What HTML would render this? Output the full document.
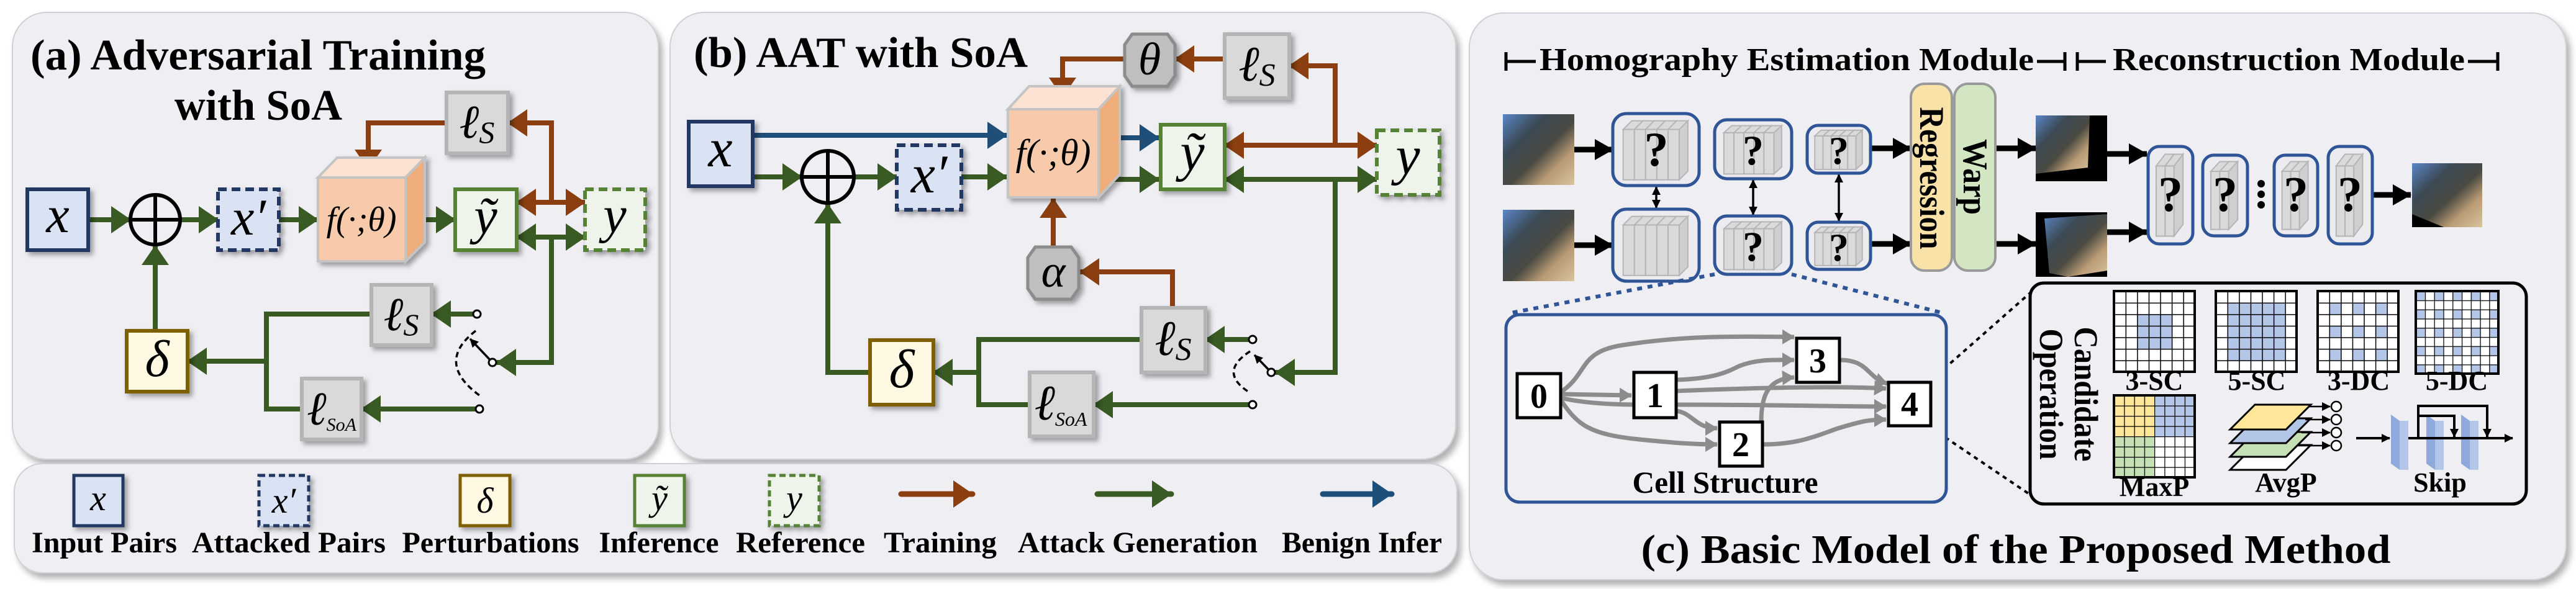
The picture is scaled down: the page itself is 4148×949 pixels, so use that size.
<!DOCTYPE html>
<html><head><meta charset="utf-8"><style>html,body{margin:0;padding:0;background:#fff}svg{display:block}svg text{font-family:"Liberation Serif","Times New Roman",serif}</style></head>
<body>
<svg width="4148" height="949" viewBox="0 0 4148 949" xmlns="http://www.w3.org/2000/svg">
<defs>
<filter id="psh" x="-5%" y="-5%" width="110%" height="115%"><feDropShadow dx="6" dy="8" stdDeviation="5" flood-color="#000" flood-opacity="0.3"/></filter>
<filter id="sh" x="-20%" y="-20%" width="150%" height="150%"><feDropShadow dx="5" dy="5" stdDeviation="4" flood-color="#000" flood-opacity="0.35"/></filter>
<marker id="mg" markerUnits="userSpaceOnUse" viewBox="0 0 32 44" markerWidth="32" markerHeight="44" refX="31" refY="22" orient="auto-start-reverse"><path d="M0,0L32,22L0,44z" fill="#3a5a24"/></marker>
<marker id="mb" markerUnits="userSpaceOnUse" viewBox="0 0 32 44" markerWidth="32" markerHeight="44" refX="31" refY="22" orient="auto-start-reverse"><path d="M0,0L32,22L0,44z" fill="#8b3f10"/></marker>
<marker id="mu" markerUnits="userSpaceOnUse" viewBox="0 0 32 44" markerWidth="32" markerHeight="44" refX="31" refY="22" orient="auto-start-reverse"><path d="M0,0L32,22L0,44z" fill="#1f4e79"/></marker>
<marker id="mk" markerUnits="userSpaceOnUse" viewBox="0 0 30 34" markerWidth="30" markerHeight="34" refX="29" refY="17" orient="auto-start-reverse"><path d="M0,0L30,17L0,34z" fill="#000"/></marker>
<marker id="mks" markerUnits="userSpaceOnUse" viewBox="0 0 14 14" markerWidth="14" markerHeight="14" refX="13" refY="7" orient="auto-start-reverse"><path d="M0,0L14,7L0,14z" fill="#000"/></marker>
<marker id="mgr" markerUnits="userSpaceOnUse" viewBox="0 0 20 24" markerWidth="20" markerHeight="24" refX="19" refY="12" orient="auto-start-reverse"><path d="M0,0L20,12L0,24z" fill="#8c8c8c"/></marker>
<linearGradient id="photo" x1="0" y1="0" x2="1" y2="1">
<stop offset="0" stop-color="#5a86c8"/><stop offset="0.3" stop-color="#3c4a55"/><stop offset="0.55" stop-color="#4a4a42"/><stop offset="0.75" stop-color="#b89a74"/><stop offset="1" stop-color="#d8c4a0"/></linearGradient>
<pattern id="g7" patternUnits="userSpaceOnUse" width="18.57" height="18.57"><path d="M18.57,0L0,0L0,18.57" fill="none" stroke="#000" stroke-width="3"/></pattern>
<pattern id="g9" patternUnits="userSpaceOnUse" width="14.78" height="14.78"><path d="M14.78,0L0,0L0,14.78" fill="none" stroke="#000" stroke-width="2.5"/></pattern>
<pattern id="g8" patternUnits="userSpaceOnUse" width="16.25" height="16.5"><path d="M16.25,0L0,0L0,16.5" fill="none" stroke="#000" stroke-width="2.5"/></pattern>
<pattern id="d3" patternUnits="userSpaceOnUse" width="37.14" height="37.14"><rect x="18.57" y="18.57" width="18.57" height="18.57" fill="#b4c6e7"/></pattern>
<pattern id="d5" patternUnits="userSpaceOnUse" width="29.56" height="29.56"><rect x="0" y="0" width="14.78" height="14.78" fill="#b4c6e7"/></pattern>
<g id="stk">
<g fill="#dadada" stroke="#b5b5b5" stroke-width="2">
<polygon points="12,22 22,10 35,10 25,22" vector-effect="non-scaling-stroke"/><rect x="12" y="22" width="13" height="70" vector-effect="non-scaling-stroke"/>
<polygon points="25,22 35,10 48,10 38,22" vector-effect="non-scaling-stroke"/><rect x="25" y="22" width="13" height="70" vector-effect="non-scaling-stroke"/>
<polygon points="38,22 48,10 61,10 51,22" vector-effect="non-scaling-stroke"/><rect x="38" y="22" width="13" height="70" vector-effect="non-scaling-stroke"/>
<polygon points="51,22 61,10 74,10 64,22" vector-effect="non-scaling-stroke"/><rect x="51" y="22" width="13" height="70" vector-effect="non-scaling-stroke"/>
<polygon points="64,22 74,10 87,10 77,22" vector-effect="non-scaling-stroke"/><rect x="64" y="22" width="13" height="70" vector-effect="non-scaling-stroke"/>
<polygon points="77,22 87,10 87,80 77,92" fill="#cfcfcf" vector-effect="non-scaling-stroke"/>
</g></g>
<g id="stk2">
<g fill="#dadada" stroke="#b5b5b5" stroke-width="2">
<polygon points="18,20 38,8 58,8 38,20" vector-effect="non-scaling-stroke"/><rect x="18" y="20" width="20" height="72" vector-effect="non-scaling-stroke"/>
<polygon points="38,20 58,8 78,8 58,20" vector-effect="non-scaling-stroke"/><rect x="38" y="20" width="20" height="72" vector-effect="non-scaling-stroke"/>
<polygon points="58,20 78,8 78,80 58,92" fill="#cfcfcf" vector-effect="non-scaling-stroke"/>
</g></g>
</defs>

<rect x="20" y="20" width="1040" height="720" rx="55" fill="#eeeef3" stroke="#d0d0d6" stroke-width="2" filter="url(#psh)"/>
<rect x="1079" y="20" width="1265" height="720" rx="55" fill="#eeeef3" stroke="#d0d0d6" stroke-width="2" filter="url(#psh)"/>
<rect x="23" y="747" width="2323" height="176" rx="45" fill="#eeeef3" stroke="#d0d0d6" stroke-width="2" filter="url(#psh)"/>
<rect x="2366" y="21" width="1766" height="913" rx="55" fill="#eeeef3" stroke="#d0d0d6" stroke-width="2" filter="url(#psh)"/>

<!-- Panel (a) -->
<text x="49" y="112" font-size="70" font-weight="bold" textLength="733" lengthAdjust="spacingAndGlyphs">(a) Adversarial Training</text>
<text x="281" y="193" font-size="70" font-weight="bold" textLength="270" lengthAdjust="spacingAndGlyphs">with SoA</text>

<g fill="none" stroke-width="8">
<line x1="142" y1="354" x2="210" y2="354" stroke="#3a5a24" marker-end="url(#mg)"/>
<line x1="290" y1="354" x2="351" y2="354" stroke="#3a5a24" marker-end="url(#mg)"/>
<line x1="449" y1="354" x2="512" y2="354" stroke="#3a5a24" marker-end="url(#mg)"/>
<line x1="667" y1="354" x2="733" y2="354" stroke="#3a5a24" marker-end="url(#mg)"/>
<polyline points="719,198 593,198 593,272" stroke="#8b3f10" marker-end="url(#mb)"/>
<polyline points="888,326 888,198 818,198" stroke="#8b3f10" marker-end="url(#mb)"/>
<line x1="832" y1="326" x2="942" y2="326" stroke="#8b3f10" marker-start="url(#mb)" marker-end="url(#mb)"/>
<line x1="832" y1="382" x2="942" y2="382" stroke="#3a5a24" marker-start="url(#mg)" marker-end="url(#mg)"/>
<polyline points="888,382 888,584 800,584" stroke="#3a5a24" marker-end="url(#mg)"/>
<line x1="762" y1="506" x2="695" y2="506" stroke="#3a5a24" marker-end="url(#mg)"/>
<line x1="766" y1="659" x2="582" y2="659" stroke="#3a5a24" marker-end="url(#mg)"/>
<polyline points="598,506 429,506 429,659 486,659" stroke="#3a5a24"/>
<line x1="429" y1="582" x2="302" y2="582" stroke="#3a5a24" marker-end="url(#mg)"/>
<line x1="250" y1="533" x2="250" y2="396" stroke="#3a5a24" marker-end="url(#mg)"/>
</g>
<line x1="793" y1="584" x2="757" y2="546" stroke="#000" stroke-width="3.5" marker-end="url(#mks)"/>
<path d="M766,533 Q700,584 772,637" fill="none" stroke="#000" stroke-width="3.5" stroke-dasharray="9 6"/>
<circle cx="768" cy="506" r="6" fill="#fff" stroke="#000" stroke-width="3"/>
<circle cx="793" cy="584" r="6" fill="#fff" stroke="#000" stroke-width="3"/>
<circle cx="772" cy="659" r="6" fill="#fff" stroke="#000" stroke-width="3"/>

<g filter="url(#sh)">
<rect x="44" y="305" width="98" height="98" fill="#dae3f3" stroke="#203864" stroke-width="6"/>
<rect x="351" y="305" width="98" height="98" fill="#dae3f3" stroke="#203864" stroke-width="6" stroke-dasharray="14 8"/>
<polygon points="512,286 543,254 684,254 653,286" fill="#fbe2d2" stroke="#c4c4c4" stroke-width="4"/>
<polygon points="653,286 684,254 684,390 653,421" fill="#f0ad7c" stroke="#c4c4c4" stroke-width="4"/>
<rect x="512" y="286" width="141" height="135" fill="#f7caab" stroke="#c4c4c4" stroke-width="4"/>
<rect x="733" y="305" width="99" height="98" fill="#eef4ea" stroke="#548235" stroke-width="6"/>
<rect x="942" y="305" width="97" height="98" fill="#eef4ea" stroke="#548235" stroke-width="6" stroke-dasharray="14 8"/>
<rect x="719" y="149" width="99" height="98" fill="#d9d9d9" stroke="#b5b5b5" stroke-width="6"/>
<rect x="598" y="459" width="97" height="97" fill="#d9d9d9" stroke="#b5b5b5" stroke-width="6"/>
<rect x="486" y="610" width="96" height="98" fill="#d9d9d9" stroke="#b5b5b5" stroke-width="6"/>
<rect x="204" y="533" width="98" height="98" fill="#fff8e2" stroke="#7f6000" stroke-width="6"/>
</g>
<circle cx="250" cy="354" r="40" fill="none" stroke="#000" stroke-width="6"/>
<line x1="210" y1="354" x2="290" y2="354" stroke="#000" stroke-width="6"/>
<line x1="250" y1="314" x2="250" y2="394" stroke="#000" stroke-width="6"/>
<g font-style="italic" text-anchor="middle">
<text x="93" y="374" font-size="84">x</text>
<text x="400" y="378" font-size="84">x′</text>
<text x="582" y="372" font-size="56">f(·;θ)</text>
<text x="782" y="376" font-size="84">ỹ</text>
<text x="990" y="374" font-size="84">y</text>
<text x="768" y="222" font-size="76">ℓ<tspan font-size="50" dy="8">S</tspan></text>
<text x="646" y="532" font-size="76">ℓ<tspan font-size="50" dy="8">S</tspan></text>
<text x="534" y="684" font-size="76">ℓ<tspan font-size="30" dy="10">SoA</tspan></text>
<text x="253" y="606" font-size="84">δ</text>
</g>

<!-- Panel (b) -->
<text x="1117" y="108" font-size="70" font-weight="bold" textLength="538" lengthAdjust="spacingAndGlyphs">(b) AAT with SoA</text>
<g fill="none" stroke-width="8">
<line x1="1212" y1="218" x2="1621" y2="218" stroke="#1f4e79" marker-end="url(#mu)"/>
<line x1="1212" y1="285" x2="1291" y2="285" stroke="#3a5a24" marker-end="url(#mg)"/>
<line x1="1375" y1="285" x2="1444" y2="285" stroke="#3a5a24" marker-end="url(#mg)"/>
<line x1="1548" y1="285" x2="1621" y2="285" stroke="#3a5a24" marker-end="url(#mg)"/>
<line x1="1783" y1="222" x2="1866" y2="222" stroke="#1f4e79" marker-end="url(#mu)"/>
<line x1="1783" y1="289" x2="1866" y2="289" stroke="#3a5a24" marker-end="url(#mg)"/>
<line x1="1972" y1="234" x2="2217" y2="234" stroke="#8b3f10" marker-start="url(#mb)" marker-end="url(#mb)"/>
<polyline points="2150,234 2150,106 2076,106" stroke="#8b3f10" marker-end="url(#mb)"/>
<line x1="1972" y1="95" x2="1892" y2="95" stroke="#8b3f10" marker-end="url(#mb)"/>
<polyline points="1810,95 1711,95 1711,156" stroke="#8b3f10" marker-end="url(#mb)"/>
<line x1="1972" y1="289" x2="2217" y2="289" stroke="#3a5a24" marker-start="url(#mg)" marker-end="url(#mg)"/>
<polyline points="2150,289 2150,600 2054,600" stroke="#3a5a24" marker-end="url(#mg)"/>
<line x1="2011" y1="547" x2="1941" y2="547" stroke="#3a5a24" marker-end="url(#mg)"/>
<line x1="2011" y1="652" x2="1761" y2="652" stroke="#3a5a24" marker-end="url(#mg)"/>
<polyline points="1838,547 1576,547 1576,652 1658,652" stroke="#3a5a24"/>
<line x1="1576" y1="600" x2="1503" y2="600" stroke="#3a5a24" marker-end="url(#mg)"/>
<polyline points="1401,600 1333,600 1333,329" stroke="#3a5a24" marker-end="url(#mg)"/>
<line x1="1696" y1="398" x2="1696" y2="320" stroke="#8b3f10" marker-end="url(#mb)"/>
<polyline points="1888,496 1888,438 1739,438" stroke="#8b3f10" marker-end="url(#mb)"/>
</g>
<line x1="2047" y1="600" x2="2020" y2="572" stroke="#000" stroke-width="3.5" marker-end="url(#mks)"/>
<path d="M2013,566 Q1960,600 2013,633" fill="none" stroke="#000" stroke-width="3.5" stroke-dasharray="9 6"/>
<circle cx="2017" cy="547" r="6" fill="#fff" stroke="#000" stroke-width="3"/>
<circle cx="2047" cy="600" r="6" fill="#fff" stroke="#000" stroke-width="3"/>
<circle cx="2017" cy="652" r="6" fill="#fff" stroke="#000" stroke-width="3"/>

<g filter="url(#sh)">
<rect x="1109" y="196" width="103" height="104" fill="#dae3f3" stroke="#203864" stroke-width="6"/>
<rect x="1444" y="234" width="104" height="104" fill="#dae3f3" stroke="#203864" stroke-width="6" stroke-dasharray="14 8"/>
<polygon points="1623,176 1657,139 1803,139 1769,176" fill="#fbe2d2" stroke="#c4c4c4" stroke-width="4"/>
<polygon points="1769,176 1803,139 1803,281 1769,318" fill="#f0ad7c" stroke="#c4c4c4" stroke-width="4"/>
<rect x="1623" y="176" width="146" height="142" fill="#f7caab" stroke="#c4c4c4" stroke-width="4"/>
<rect x="1869" y="201" width="103" height="104" fill="#eef4ea" stroke="#548235" stroke-width="6"/>
<rect x="2217" y="210" width="101" height="104" fill="#eef4ea" stroke="#548235" stroke-width="6" stroke-dasharray="14 8"/>
<rect x="1972" y="55" width="104" height="103" fill="#d9d9d9" stroke="#b5b5b5" stroke-width="6"/>
<rect x="1838" y="496" width="103" height="104" fill="#d9d9d9" stroke="#b5b5b5" stroke-width="6"/>
<rect x="1658" y="600" width="103" height="103" fill="#d9d9d9" stroke="#b5b5b5" stroke-width="6"/>
<rect x="1401" y="548" width="102" height="104" fill="#fff8e2" stroke="#7f6000" stroke-width="6"/>
<polygon points="1823,55 1880,55 1892,72 1892,122 1880,139 1823,139 1811,122 1811,72" fill="#bfbfbf" stroke="#8c8c8c" stroke-width="5"/>
<polygon points="1667,398 1725,398 1737,415 1737,465 1725,482 1667,482 1655,465 1655,415" fill="#bfbfbf" stroke="#8c8c8c" stroke-width="5"/>
</g>
<circle cx="1333" cy="285" r="42" fill="none" stroke="#000" stroke-width="6"/>
<line x1="1291" y1="285" x2="1375" y2="285" stroke="#000" stroke-width="6"/>
<line x1="1333" y1="243" x2="1333" y2="327" stroke="#000" stroke-width="6"/>
<g font-style="italic" text-anchor="middle">
<text x="1160" y="268" font-size="88">x</text>
<text x="1496" y="310" font-size="88">x′</text>
<text x="1696" y="266" font-size="60">f(·;θ)</text>
<text x="1920" y="274" font-size="88">ỹ</text>
<text x="2267" y="280" font-size="88">y</text>
<text x="2024" y="130" font-size="80">ℓ<tspan font-size="52" dy="8">S</tspan></text>
<text x="1889" y="572" font-size="80">ℓ<tspan font-size="52" dy="8">S</tspan></text>
<text x="1708" y="676" font-size="80">ℓ<tspan font-size="32" dy="10">SoA</tspan></text>
<text x="1452" y="624" font-size="88">δ</text>
<text x="1851" y="120" font-size="74">θ</text>
<text x="1696" y="462" font-size="74">α</text>
</g>

<!-- Legend -->
<g filter="url(#sh)">
<rect x="119" y="766" width="79" height="81" fill="#dae3f3" stroke="#203864" stroke-width="5"/>
<rect x="417" y="766" width="80" height="81" fill="#dae3f3" stroke="#203864" stroke-width="5" stroke-dasharray="10 6"/>
<rect x="741" y="766" width="80" height="81" fill="#fff8e2" stroke="#7f6000" stroke-width="5"/>
<rect x="1022" y="766" width="80" height="81" fill="#eef4ea" stroke="#548235" stroke-width="5"/>
<rect x="1239" y="766" width="80" height="81" fill="#eef4ea" stroke="#548235" stroke-width="5" stroke-dasharray="10 6"/>
</g>
<g font-style="italic" text-anchor="middle" font-size="58">
<text x="158" y="822">x</text><text x="457" y="826">x′</text><text x="781" y="826">δ</text><text x="1062" y="822">ỹ</text><text x="1279" y="822">y</text>
</g>
<line x1="1451" y1="796" x2="1566" y2="796" stroke="#8b3f10" stroke-width="9" stroke-linecap="round" marker-end="url(#mb)"/>
<line x1="1767" y1="796" x2="1886" y2="796" stroke="#3a5a24" stroke-width="9" stroke-linecap="round" marker-end="url(#mg)"/>
<line x1="2130" y1="796" x2="2241" y2="796" stroke="#1f4e79" stroke-width="9" stroke-linecap="round" marker-end="url(#mu)"/>
<g font-size="48" font-weight="bold" text-anchor="middle">
<text x="168" y="890" textLength="234" lengthAdjust="spacingAndGlyphs">Input Pairs</text>
<text x="465" y="890" textLength="312" lengthAdjust="spacingAndGlyphs">Attacked Pairs</text>
<text x="790" y="890" textLength="285" lengthAdjust="spacingAndGlyphs">Perturbations</text>
<text x="1061" y="890" textLength="193" lengthAdjust="spacingAndGlyphs">Inference</text>
<text x="1289" y="890" textLength="208" lengthAdjust="spacingAndGlyphs">Reference</text>
<text x="1514" y="890" textLength="182" lengthAdjust="spacingAndGlyphs">Training</text>
<text x="1832" y="890" textLength="386" lengthAdjust="spacingAndGlyphs">Attack Generation</text>
<text x="2193" y="890" textLength="258" lengthAdjust="spacingAndGlyphs">Benign Infer</text>
</g>

<!-- Panel (c) -->
<g stroke="#000" stroke-width="5" fill="none">
<path d="M2425,84V114M2425,99H2473"/>
<path d="M3280,99H3325M3325,84V114M3345,84V114M3345,99H3391"/>
<path d="M3974,99H4022M4022,84V114"/>
</g>
<text x="2479" y="113" font-size="52" font-weight="bold" textLength="796" lengthAdjust="spacingAndGlyphs">Homography Estimation Module</text>
<text x="3402" y="113" font-size="52" font-weight="bold" textLength="567" lengthAdjust="spacingAndGlyphs">Reconstruction Module</text>

<rect x="2420" y="184" width="115" height="114" fill="url(#photo)"/>
<rect x="2420" y="338" width="115" height="115" fill="url(#photo)"/>
<rect x="3278" y="186" width="115" height="106" fill="#000"/>
<polygon points="3278,186 3365,186 3362,270 3278,280" fill="url(#photo)"/>
<rect x="3278" y="342" width="115" height="104" fill="#000"/>
<polygon points="3292,352 3393,345 3393,436 3330,446 3300,440" fill="url(#photo)"/>
<rect x="3884" y="263" width="113" height="103" fill="url(#photo)"/>
<polygon points="3884,345 3935,366 3884,366" fill="#000"/>

<g stroke="#000" stroke-width="9" fill="none">
<line x1="2535" y1="241" x2="2597" y2="241" marker-end="url(#mk)"/>
<line x1="2535" y1="395" x2="2597" y2="395" marker-end="url(#mk)"/>
<line x1="3012" y1="239" x2="3077" y2="239" marker-end="url(#mk)"/>
<line x1="3012" y1="393" x2="3077" y2="393" marker-end="url(#mk)"/>
<line x1="3213" y1="239" x2="3278" y2="239" marker-end="url(#mk)"/>
<line x1="3213" y1="393" x2="3278" y2="393" marker-end="url(#mk)"/>
<line x1="3393" y1="248" x2="3457" y2="248" marker-end="url(#mk)"/>
<line x1="3393" y1="374" x2="3457" y2="374" marker-end="url(#mk)"/>
<line x1="3820" y1="314" x2="3882" y2="314" marker-end="url(#mk)"/>
</g>
<g stroke="#000" stroke-width="3.5">
<line x1="2667" y1="301" x2="2667" y2="335" marker-start="url(#mks)" marker-end="url(#mks)"/>
<line x1="2823" y1="290" x2="2823" y2="346" marker-start="url(#mks)" marker-end="url(#mks)"/>
<line x1="2961" y1="281" x2="2961" y2="356" marker-start="url(#mks)" marker-end="url(#mks)"/>
</g>

<g fill="#ececf0" stroke="#2f5597" stroke-width="5">
<rect x="2597" y="183" width="139" height="116" rx="22"/>
<rect x="2597" y="337" width="139" height="116" rx="22"/>
<rect x="2761" y="193" width="124" height="95" rx="20"/>
<rect x="2761" y="348" width="124" height="94" rx="20"/>
<rect x="2910" y="202" width="102" height="77" rx="18"/>
<rect x="2910" y="358" width="102" height="76" rx="18"/>
<rect x="3459" y="236" width="72" height="157" rx="18"/>
<rect x="3547" y="250" width="72" height="130" rx="18"/>
<rect x="3662" y="250" width="70" height="130" rx="18"/>
<rect x="3749" y="236" width="71" height="157" rx="18"/>
</g>
<use href="#stk" transform="translate(2597,183) scale(1.39,1.16)"/>
<use href="#stk" transform="translate(2597,337) scale(1.39,1.16)"/>
<use href="#stk" transform="translate(2761,193) scale(1.24,0.95)"/>
<use href="#stk" transform="translate(2761,348) scale(1.24,0.94)"/>
<use href="#stk" transform="translate(2910,202) scale(1.02,0.77)"/>
<use href="#stk" transform="translate(2910,358) scale(1.02,0.76)"/>
<use href="#stk2" transform="translate(3459,236) scale(0.72,1.57)"/>
<use href="#stk2" transform="translate(3547,250) scale(0.72,1.30)"/>
<use href="#stk2" transform="translate(3662,250) scale(0.70,1.30)"/>
<use href="#stk2" transform="translate(3749,236) scale(0.71,1.57)"/>
<g font-weight="bold" text-anchor="middle">
<text x="2667" y="267" font-size="78">?</text>
<text x="2823" y="265" font-size="68">?</text>
<text x="2823" y="420" font-size="68">?</text>
<text x="2961" y="264" font-size="64">?</text>
<text x="2961" y="420" font-size="64">?</text>
<text x="3495" y="340" font-size="80">?</text>
<text x="3583" y="340" font-size="80">?</text>
<text x="3697" y="340" font-size="80">?</text>
<text x="3784" y="340" font-size="80">?</text>
</g>
<circle cx="3641" cy="296" r="6"/><circle cx="3641" cy="313" r="6"/><circle cx="3641" cy="330" r="6"/>

<rect x="3077" y="135" width="66" height="301" rx="22" fill="#f8e2a8" stroke="#9a9a9a" stroke-width="4"/>
<rect x="3147" y="135" width="66" height="301" rx="22" fill="#d3e6c4" stroke="#9a9a9a" stroke-width="4"/>
<text transform="translate(3110,287) rotate(90)" text-anchor="middle" dominant-baseline="central" font-size="56" font-weight="bold" textLength="229" lengthAdjust="spacingAndGlyphs">Regression</text>
<text transform="translate(3180,285) rotate(90)" text-anchor="middle" dominant-baseline="central" font-size="56" font-weight="bold" textLength="122" lengthAdjust="spacingAndGlyphs">Warp</text>

<g fill="none" stroke="#2f5597" stroke-width="6" stroke-dasharray="8 9">
<line x1="2761" y1="442" x2="2428" y2="505"/>
<line x1="2885" y1="442" x2="3131" y2="505"/>
</g>
<g fill="none" stroke="#000" stroke-width="4" stroke-dasharray="7 7">
<line x1="3109" y1="613" x2="3269" y2="472"/>
<line x1="3109" y1="689" x2="3269" y2="797"/>
</g>

<rect x="2425" y="507" width="709" height="302" rx="22" fill="#eeeef3" stroke="#2f5597" stroke-width="5"/>
<g fill="none" stroke="#8c8c8c" stroke-width="7">
<path d="M2513,635 L2627,637" marker-end="url(#mgr)"/>
<path d="M2513,641 Q2560,652 2640,652 L2700,652 C2850,652 2950,655 3037,655" marker-end="url(#mgr)"/>
<path d="M2513,632 C2560,600 2540,565 2620,555 C2720,540 2800,542 2889,543" marker-end="url(#mgr)"/>
<path d="M2513,644 C2540,685 2560,700 2640,708 C2700,714 2730,716 2765,716" marker-end="url(#mgr)"/>
<path d="M2699,662 C2725,665 2730,690 2765,690" marker-end="url(#mgr)"/>
<path d="M2699,612 C2760,610 2780,600 2800,590 C2830,578 2860,580 2889,580" marker-end="url(#mgr)"/>
<path d="M2699,630 C2850,624 2950,622 3037,626" marker-end="url(#mgr)"/>
<path d="M2836,680 C2836,640 2845,610 2889,608" marker-end="url(#mgr)"/>
<path d="M2838,716 C2900,716 2930,700 2960,690 C3000,678 3010,676 3037,676" marker-end="url(#mgr)"/>
<path d="M2962,580 C3010,580 3005,608 3039,618" marker-end="url(#mgr)"/>
</g>
<g fill="#fff" stroke="#000" stroke-width="5">
<rect x="2443" y="602" width="70" height="71"/>
<rect x="2631" y="600" width="68" height="73"/>
<rect x="2769" y="680" width="69" height="71"/>
<rect x="2893" y="545" width="69" height="71"/>
<rect x="3041" y="616" width="68" height="70"/>
</g>
<g font-size="56" font-weight="bold" text-anchor="middle">
<text x="2478" y="657">0</text><text x="2665" y="656">1</text><text x="2803" y="735">2</text><text x="2927" y="600">3</text><text x="3075" y="670">4</text>
</g>
<text x="2778" y="794" font-size="50" font-weight="bold" text-anchor="middle" textLength="299" lengthAdjust="spacingAndGlyphs">Cell Structure</text>

<rect x="3269" y="456" width="799" height="356" rx="22" fill="#eeeef3" stroke="#000" stroke-width="5"/>
<text transform="translate(3359,635) rotate(90)" text-anchor="middle" dominant-baseline="central" font-size="54" font-weight="bold" textLength="217" lengthAdjust="spacingAndGlyphs">Candidate</text>
<text transform="translate(3303,635) rotate(90)" text-anchor="middle" dominant-baseline="central" font-size="54" font-weight="bold" textLength="211" lengthAdjust="spacingAndGlyphs">Operation</text>

<g transform="translate(3404,469)">
<rect width="130" height="130" fill="#fff"/><rect x="37.14" y="37.14" width="55.71" height="55.71" fill="#b4c6e7"/>
<rect width="130" height="130" fill="url(#g7)"/><rect width="130" height="130" fill="none" stroke="#000" stroke-width="4"/></g>
<g transform="translate(3568,469)">
<rect width="130" height="130" fill="#fff"/><rect x="18.57" y="18.57" width="92.86" height="92.86" fill="#b4c6e7"/>
<rect width="130" height="130" fill="url(#g7)"/><rect width="130" height="130" fill="none" stroke="#000" stroke-width="4"/></g>
<g transform="translate(3732,469)">
<rect width="130" height="130" fill="#fff"/><rect x="18.57" y="18.57" width="92.86" height="92.86" fill="url(#d3)"/>
<rect width="130" height="130" fill="url(#g7)"/><rect width="130" height="130" fill="none" stroke="#000" stroke-width="4"/></g>
<g transform="translate(3890,469)">
<rect width="133" height="133" fill="#fff"/><rect width="133" height="133" fill="url(#d5)"/>
<rect width="133" height="133" fill="url(#g9)"/><rect width="133" height="133" fill="none" stroke="#000" stroke-width="4"/></g>
<g transform="translate(3404,637)">
<rect width="65" height="66" fill="#ffe699"/><rect x="65" width="65" height="66" fill="#b4c6e7"/>
<rect y="66" width="65" height="66" fill="#c5e0b4"/><rect x="65" y="66" width="65" height="66" fill="#fff"/>
<rect width="130" height="132" fill="url(#g8)"/><rect width="130" height="132" fill="none" stroke="#000" stroke-width="4"/></g>
<g font-size="44" font-weight="bold" text-anchor="middle">
<text x="3469" y="628">3-SC</text><text x="3634" y="628">5-SC</text><text x="3798" y="628">3-DC</text><text x="3956" y="628">5-DC</text>
<text x="3469" y="799">MaxP</text><text x="3681" y="792">AvgP</text><text x="3929" y="792">Skip</text>
</g>
<g stroke="#000" stroke-width="3">
<polygon points="3631,717 3721,717 3681,757 3591,757" fill="#fff"/>
<polygon points="3631,696 3721,696 3681,736 3591,736" fill="#c5e0b4"/>
<polygon points="3631,674 3721,674 3681,714 3591,714" fill="#b4c6e7"/>
<polygon points="3631,652 3721,652 3681,692 3591,692" fill="#ffe699"/>
</g>
<g stroke="#000" stroke-width="2.5" fill="none">
<line x1="3718" y1="655" x2="3752" y2="655" marker-end="url(#mks)"/>
<line x1="3712" y1="676" x2="3752" y2="676" marker-end="url(#mks)"/>
<line x1="3706" y1="697" x2="3752" y2="697" marker-end="url(#mks)"/>
<line x1="3700" y1="718" x2="3752" y2="718" marker-end="url(#mks)"/>
<circle cx="3762" cy="655" r="8" fill="#fff"/><circle cx="3762" cy="676" r="8" fill="#fff"/><circle cx="3762" cy="697" r="8" fill="#fff"/><circle cx="3762" cy="718" r="8" fill="#fff"/>
</g>
<g>
<polygon points="3850,668 3864,678 3864,757 3850,747" fill="#8ea9db"/><rect x="3864" y="678" width="14" height="79" fill="#b4c6e7"/>
<polygon points="3907,668 3921,678 3921,757 3907,747" fill="#8ea9db"/><rect x="3921" y="678" width="14" height="79" fill="#b4c6e7"/>
<polygon points="3963,668 3977,678 3977,757 3963,747" fill="#8ea9db"/><rect x="3977" y="678" width="14" height="79" fill="#b4c6e7"/>
</g>
<g stroke="#000" stroke-width="4" fill="none">
<line x1="3794" y1="706" x2="3848" y2="706" marker-end="url(#mks)"/>
<line x1="3878" y1="706" x2="4046" y2="706" marker-end="url(#mks)"/>
<polyline points="3894,706 3894,654 4005,654 4005,704" marker-end="url(#mks)"/>
<polyline points="3894,670 3952,670 3952,704" marker-end="url(#mks)"/>
</g>

<text x="3246" y="907" font-size="66" font-weight="bold" text-anchor="middle" textLength="1207" lengthAdjust="spacingAndGlyphs">(c) Basic Model of the Proposed Method</text>
</svg>
</body></html>
